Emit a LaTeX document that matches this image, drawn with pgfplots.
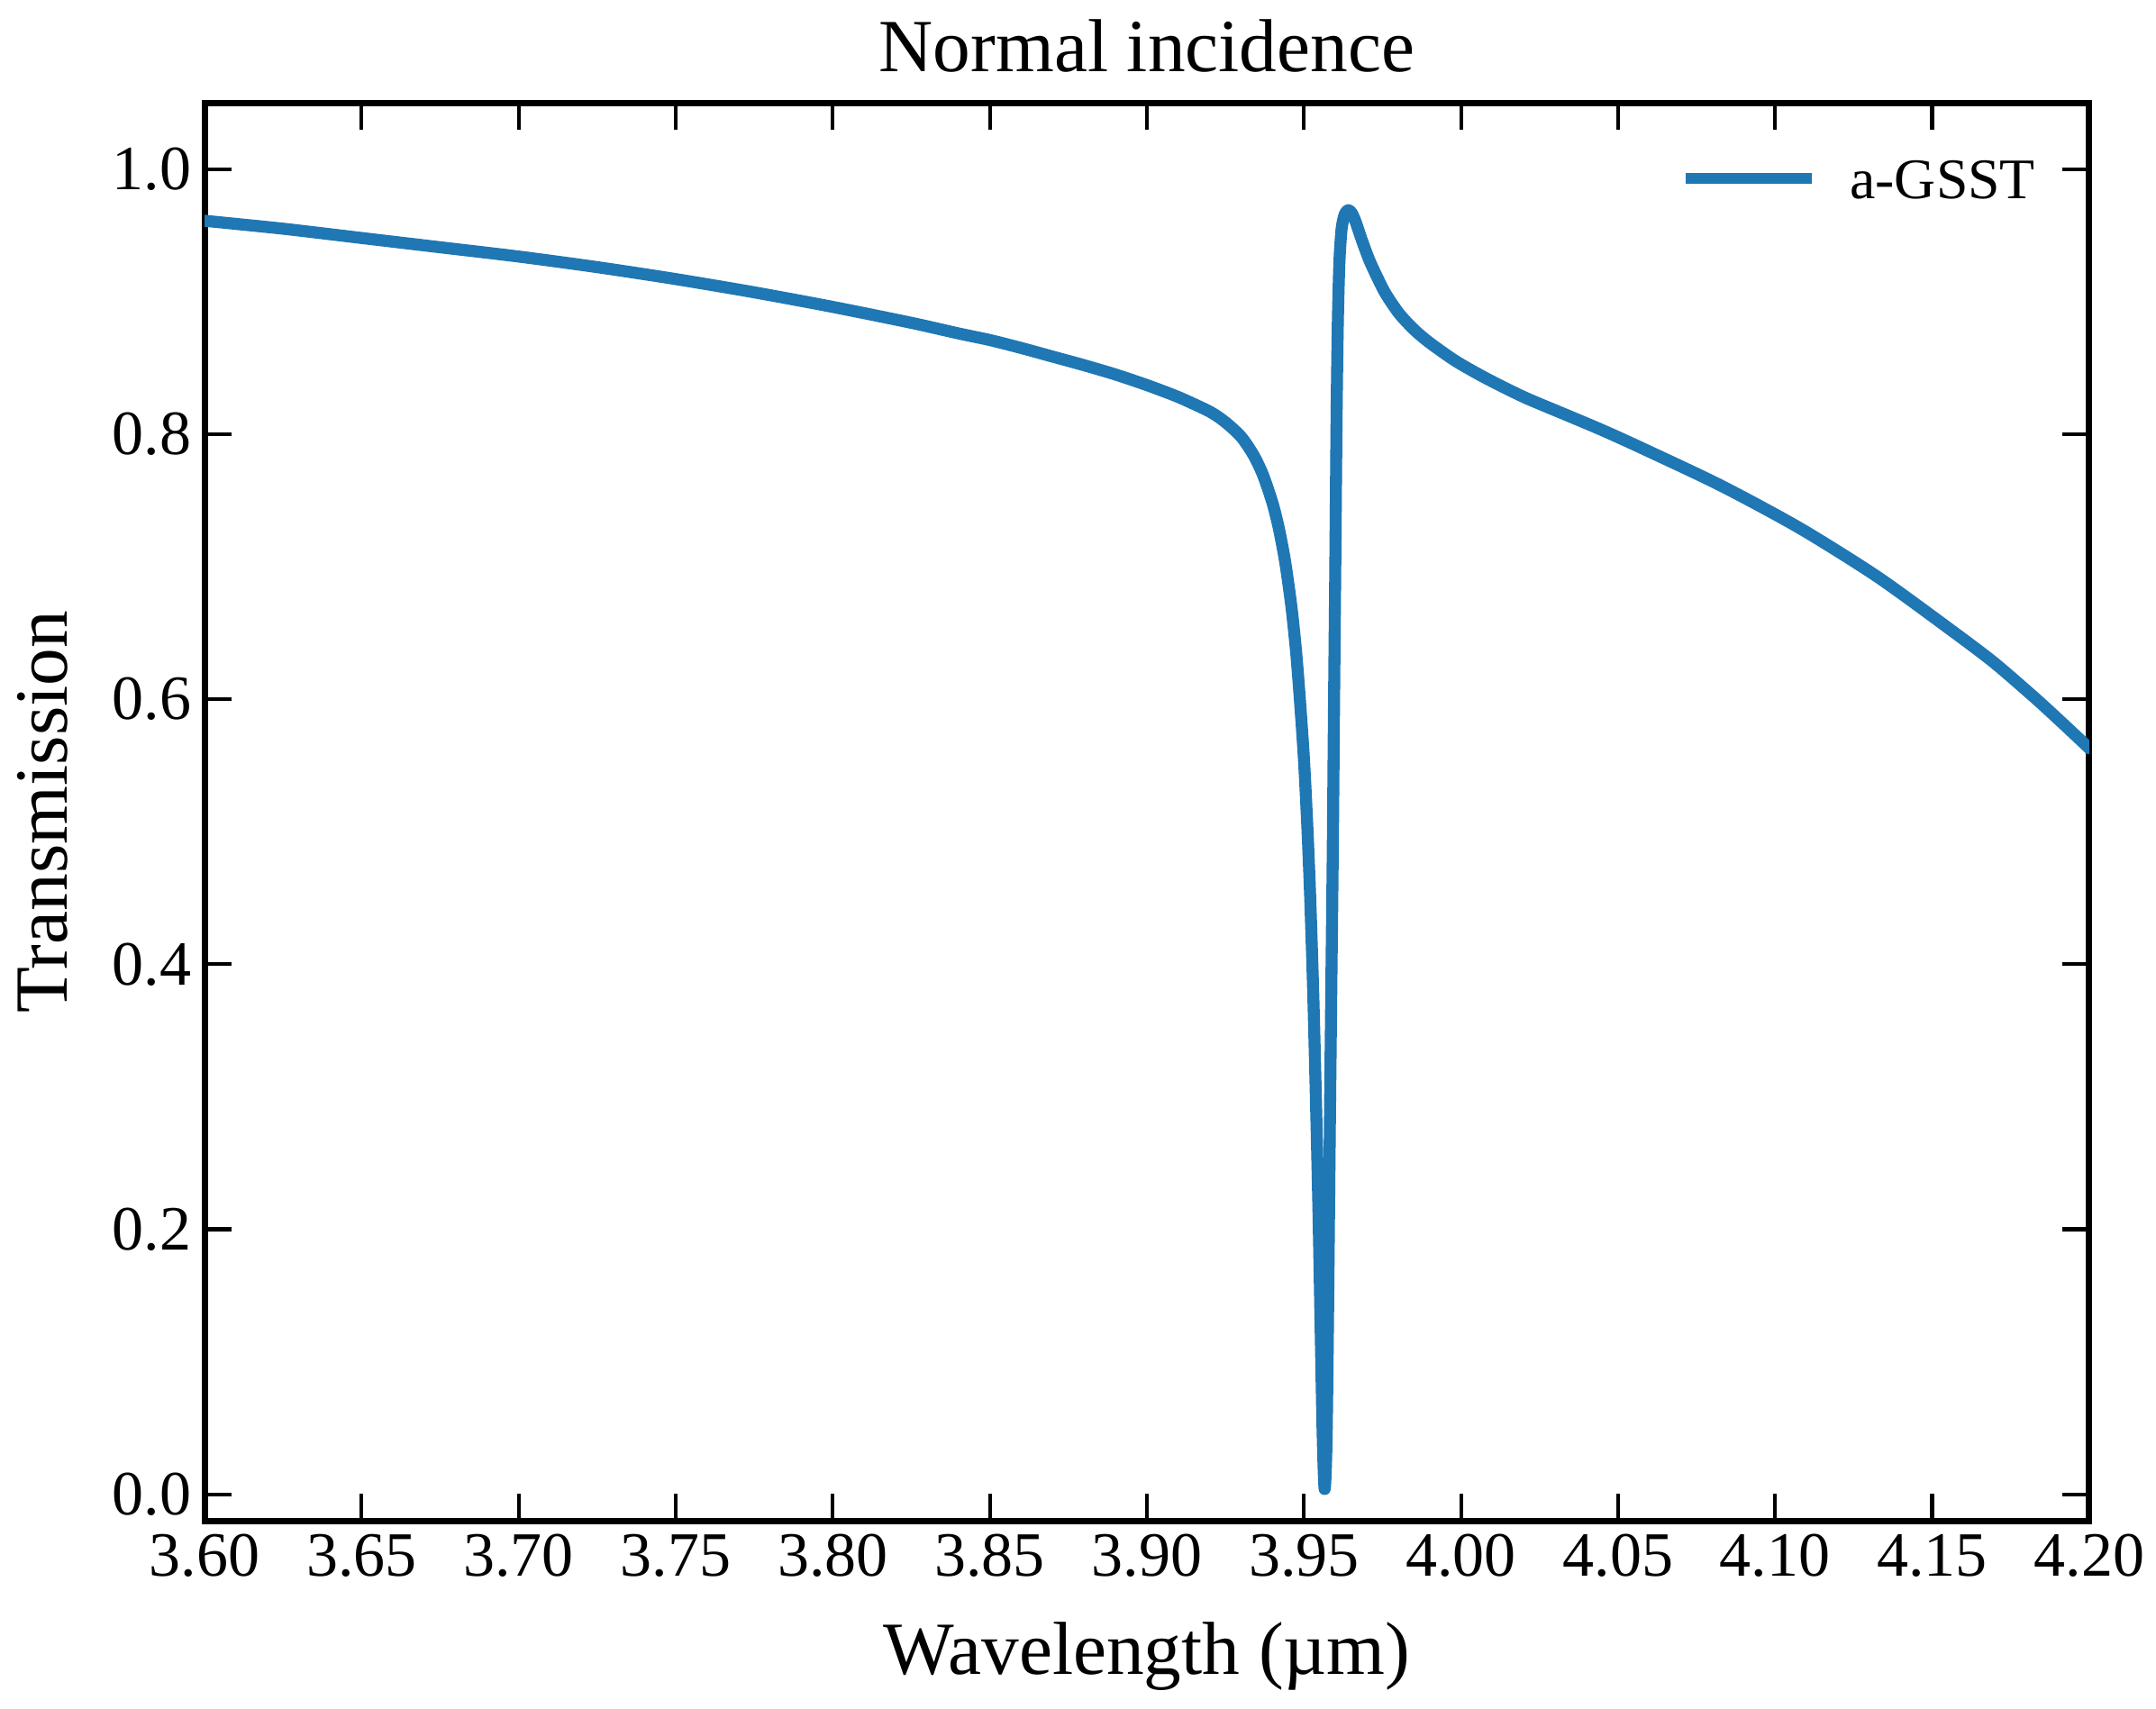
\documentclass[border=0pt]{standalone}
\usepackage{fontspec}
\setmainfont{Liberation Serif}
\usepackage{pgfplots}
\pgfplotsset{compat=1.18}
\definecolor{tabblue}{HTML}{1F77B4}
\pgfplotstableread{
x y
3.600 0.961
3.625 0.955
3.650 0.948
3.675 0.941
3.700 0.934
3.725 0.926
3.750 0.917
3.775 0.907
3.800 0.896
3.825 0.884
3.840 0.876
3.850 0.871
3.860 0.865
3.870 0.8585
3.880 0.852
3.890 0.845
3.900 0.837
3.910 0.828
3.920 0.817
3.925 0.809
3.930 0.798
3.934 0.784
3.937 0.769
3.940 0.748
3.942 0.729
3.944 0.704
3.946 0.670
3.9475 0.636
3.9487 0.600
3.9500 0.555
3.9511 0.503
3.9520 0.450
3.9530 0.375
3.9540 0.280
3.9547 0.205
3.9554 0.115
3.9560 0.042
3.9566 0.004
3.9572 0.040
3.9577 0.140
3.9583 0.288
3.9588 0.400
3.9592 0.489
3.9596 0.600
3.9600 0.705
3.9604 0.815
3.9608 0.885
3.9613 0.930
3.9620 0.955
3.9630 0.966
3.9641 0.969
3.9652 0.967
3.9665 0.960
3.9685 0.946
3.9707 0.932
3.9730 0.920
3.9760 0.906
3.9803 0.891
3.9850 0.879
3.9900 0.869
3.9984 0.855
4.0081 0.842
4.0200 0.828
4.0330 0.815
4.0450 0.803
4.0580 0.789
4.0829 0.761
4.1079 0.729
4.1328 0.692
4.1578 0.649
4.1700 0.627
4.1827 0.601
4.1910 0.583
4.2000 0.563
}\datatable
\begin{document}
\begin{tikzpicture}
\begin{axis}[
  name=ax,
  scale only axis,
  width=502.1pt, height=377.8pt,
  xmin=3.6, xmax=4.2, ymin=-0.02, ymax=1.05,
  xtick={3.6,3.65,3.7,3.75,3.8,3.85,3.9,3.95,4.0,4.05,4.1,4.15,4.2},
  ytick={0,0.2,0.4,0.6,0.8,1.0},
  minor tick num=0,
  tick align=inside,
  tick pos=both,
  xticklabel pos=lower, yticklabel pos=left,
  major tick length=7.2pt,
  tick style={black, line width=1pt},
  axis line style={black, line width=1.7pt},
  /pgf/number format/assume math mode=true,
  ticklabel style={font=\fontsize{16.8}{20}\selectfont},
  xticklabel style={/pgf/number format/fixed, /pgf/number format/fixed zerofill, /pgf/number format/precision=2},
  yticklabel style={/pgf/number format/fixed, /pgf/number format/fixed zerofill, /pgf/number format/precision=1},
  title={Normal incidence},
  xlabel={Wavelength (µm)},
  ylabel={Transmission},
  every axis title/.style={at={(axis description cs:0.5,1)}, anchor=base, yshift=8.4pt, font=\fontsize{20}{24}\selectfont},
  every axis x label/.style={at={(axis description cs:0.5,0)}, anchor=base, yshift=-41pt, font=\fontsize{20}{24}\selectfont},
  every axis y label/.style={at={(axis description cs:-0.0727,0.5)}, anchor=base, rotate=90, font=\fontsize{20}{24}\selectfont},
  legend style={draw=none, fill=none, at={(axis description cs:1,1)}, anchor=north east, xshift=-14.4pt, yshift=-14.6pt, inner sep=0pt, outer sep=0pt, row sep=0pt, column sep=0pt, font=\fontsize{15.3}{18.4}\selectfont, nodes={inner sep=0pt, text height=11pt, text depth=3.5pt}},
  legend cell align=left,
  legend image code/.code={\draw[#1, line width=2.9pt, line cap=butt] (0pt,1.8pt) -- (33.6pt,1.8pt); \path (42.3pt,0pt);},
]
\addplot[color=tabblue, line width=3.2pt, line join=round, line cap=round, mark=none, smooth, tension=0.45] table[x=x, y=y] {\datatable};
\addlegendentry{a-GSST}
\end{axis}
\pgfresetboundingbox
\path[use as bounding box] ([xshift=-54.5pt,yshift=-49.9pt]ax.south west) rectangle ([xshift=17.8pt,yshift=27.4pt]ax.north east);
\end{tikzpicture}
\end{document}
